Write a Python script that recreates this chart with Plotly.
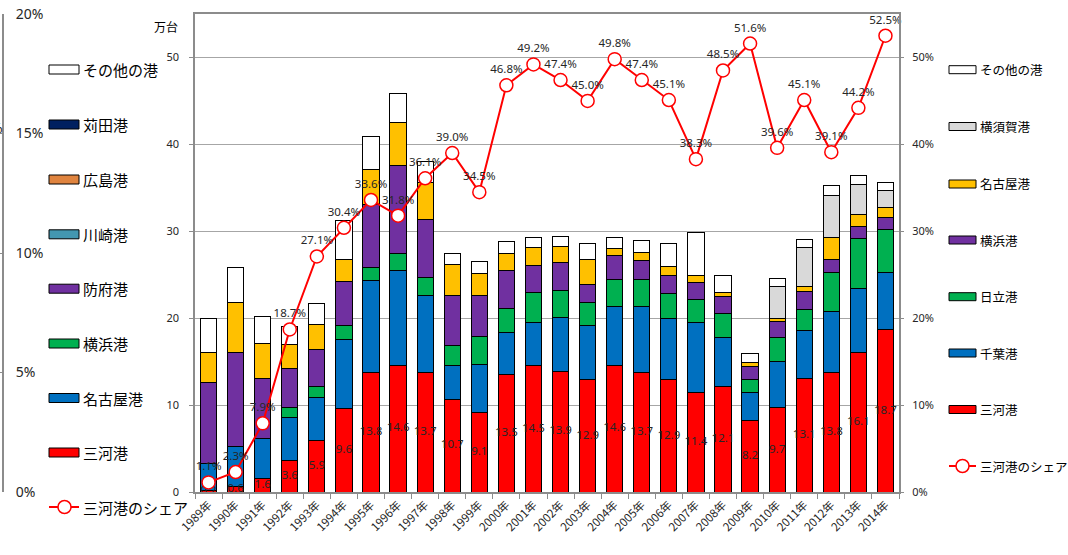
import plotly.graph_objects as go

W, H = 1068, 555

years = ["1989年","1990年","1991年","1992年","1993年","1994年","1995年","1996年","1997年",
         "1998年","1999年","2000年","2001年","2002年","2003年","2004年","2005年","2006年",
         "2007年","2008年","2009年","2010年","2011年","2012年","2013年","2014年"]

mikawa   = [0.2, 0.6, 1.6, 3.6, 5.9, 9.6, 13.8, 14.6, 13.7, 10.7, 9.1, 13.5, 14.5, 13.9, 12.9,
            14.6, 13.7, 12.9, 11.4, 12.1, 8.2, 9.7, 13.1, 13.8, 16.1, 18.7]
chiba    = [3.1, 4.6, 4.6, 5.0, 5.0, 8.0, 10.5, 10.9, 8.9, 3.8, 5.6, 4.85, 5.0, 6.2, 6.3,
            6.75, 7.6, 7.1, 8.1, 5.65, 3.3, 5.3, 5.45, 7.0, 7.35, 6.6]
hitachi  = [0.0, 0.0, 0.0, 1.1, 1.2, 1.6, 1.5, 2.0, 2.1, 2.4, 3.2, 2.75, 3.4, 3.1, 2.6,
            3.15, 3.1, 2.8, 2.6, 2.75, 1.5, 2.8, 2.45, 4.5, 5.75, 4.9]
yokohama = [9.3, 10.9, 6.9, 4.5, 4.3, 5.0, 7.3, 10.1, 6.6, 5.7, 4.7, 4.4, 3.2, 3.15, 2.05,
            2.7, 2.2, 2.1, 1.95, 1.95, 1.4, 1.8, 2.05, 1.4, 1.35, 1.4]
nagoya   = [3.4, 5.75, 4.0, 2.8, 2.9, 2.6, 4.0, 4.9, 4.3, 3.6, 2.5, 2.0, 2.0, 1.95, 2.85,
            0.8, 1.0, 1.0, 0.85, 0.5, 0.55, 0.4, 0.6, 2.6, 1.35, 1.15]
yokosuka = [0, 0, 0, 0, 0, 0, 0, 0, 0, 0, 0, 0, 0, 0, 0,
            0, 0, 0, 0, 0, 0, 3.65, 4.5, 4.8, 3.5, 1.95]
others   = [4.0, 3.95, 3.1, 2.1, 2.4, 4.4, 3.8, 3.4, 2.4, 1.3, 1.4, 1.3, 1.2, 1.1, 1.95,
            1.3, 1.3, 2.75, 5.0, 2.0, 1.0, 0.95, 0.95, 1.15, 1.0, 0.9]
share    = [1.1, 2.3, 7.9, 18.7, 27.1, 30.4, 33.6, 31.8, 36.1, 39.0, 34.5, 46.8, 49.2, 47.4, 45.0,
            49.8, 47.4, 45.1, 38.3, 48.5, 51.6, 39.6, 45.1, 39.1, 44.2, 52.5]

y_ticks_left = [0, 10, 20, 30, 40, 50]
share_ticks = [0, 0.1, 0.2, 0.3, 0.4, 0.5]
old_ticks = [0, 0.05, 0.10, 0.15, 0.20]

series_names = ["三河港", "千葉港", "日立港", "横浜港", "名古屋港", "横須賀港", "その他の港"]
series_vals = [mikawa, chiba, hitachi, yokohama, nagoya, yokosuka, others]
series_cols = ["#FF0000", "#0070C0", "#00B050", "#7030A0", "#FFC000", "#D9D9D9", "#FFFFFF"]

old_leg_names = ["その他の港", "苅田港", "広島港", "川崎港", "防府港", "横浜港", "名古屋港", "三河港"]
old_leg_cols = ["#FFFFFF", "#002060", "#E0843F", "#4397B0", "#7030A0", "#00B050", "#0070C0", "#FF0000"]

FONT = "Noto Sans, Noto Sans CJK JP, sans-serif"
JFONT = "Noto Sans CJK JP, sans-serif"
AX = "#8C8C8C"
TXT = "#262626"

fig = go.Figure()
for name, vals, col in zip(series_names, series_vals, series_cols):
    fig.add_trace(go.Bar(x=years, y=vals, name=name, marker=dict(color=col, line=dict(color="#000000", width=1)),
                         showlegend=False, hoverinfo="x+y+name"))

# red value labels centred in the 三河港 segment
fig.add_trace(go.Scatter(x=years, y=[v / 2 for v in mikawa], mode="text",
                         text=[f"{v:.1f}" for v in mikawa], textposition="middle center",
                         textfont=dict(family=FONT, size=11.5, color=TXT), showlegend=False, hoverinfo="skip"))

# share line
fig.add_trace(go.Scatter(x=years, y=[s / 100 for s in share], yaxis="y2", mode="lines+markers+text",
                         line=dict(color="#FF0000", width=2),
                         marker=dict(symbol="circle", size=13, color="#FFFFFF", line=dict(color="#FF0000", width=1.5)),
                         text=[f"{s:.1f}%" for s in share], textposition="top center",
                         textfont=dict(family=FONT, size=11.5, color=TXT), name="三河港のシェア",
                         showlegend=False, cliponaxis=False))

# dummy trace for the old (left) percentage axis
fig.add_trace(go.Scatter(x=[years[0]], y=[0], yaxis="y3", mode="markers", marker=dict(opacity=0),
                         showlegend=False, hoverinfo="skip"))

def px(x):
    return x / W

def py(y):
    return 1 - y / H

shapes = []
annotations = []

# left (old) legend
old_y = [69.5, 124.5, 179.5, 234.3, 288.7, 343.5, 398, 452.5]
for nm, col, yy in zip(old_leg_names, old_leg_cols, old_y):
    shapes.append(dict(type="rect", xref="paper", yref="paper", x0=px(49), x1=px(79), y0=py(yy + 4.5), y1=py(yy - 4.5),
                       fillcolor=col, line=dict(color="#000000", width=1)))
    annotations.append(dict(xref="paper", yref="paper", x=px(81), y=py(yy), text=nm, showarrow=False,
                            xanchor="left", yanchor="middle", font=dict(family=JFONT, size=15, color="#000000")))
shapes.append(dict(type="line", xref="paper", yref="paper", x0=px(49), x1=px(79), y0=py(507), y1=py(507),
                   line=dict(color="#FF0000", width=2)))
shapes.append(dict(type="circle", xref="paper", yref="paper", x0=px(58), x1=px(71), y0=py(513.5), y1=py(500.5),
                   fillcolor="#FFFFFF", line=dict(color="#FF0000", width=1.5)))
annotations.append(dict(xref="paper", yref="paper", x=px(81), y=py(507), text="三河港のシェア", showarrow=False,
                        xanchor="left", yanchor="middle", font=dict(family=JFONT, size=15, color="#000000")))

# right legend
new_leg = list(zip(series_names[::-1], series_cols[::-1]))
new_y = [69.7, 126.5, 184, 240, 296.7, 353, 409.5]
for (nm, col), yy in zip(new_leg, new_y):
    shapes.append(dict(type="rect", xref="paper", yref="paper", x0=px(949), x1=px(976), y0=py(yy + 4), y1=py(yy - 4),
                       fillcolor=col, line=dict(color="#000000", width=1)))
    annotations.append(dict(xref="paper", yref="paper", x=px(978), y=py(yy), text=nm, showarrow=False,
                            xanchor="left", yanchor="middle", font=dict(family=JFONT, size=12.5, color="#000000")))
shapes.append(dict(type="line", xref="paper", yref="paper", x0=px(949), x1=px(976), y0=py(466), y1=py(466),
                   line=dict(color="#FF0000", width=2)))
shapes.append(dict(type="circle", xref="paper", yref="paper", x0=px(956), x1=px(969), y0=py(472.5), y1=py(459.5),
                   fillcolor="#FFFFFF", line=dict(color="#FF0000", width=1.5)))
annotations.append(dict(xref="paper", yref="paper", x=px(978), y=py(466), text="三河港のシェア", showarrow=False,
                        xanchor="left", yanchor="middle", font=dict(family=JFONT, size=12.5, color="#000000")))

# unit label and cut-off fragment
annotations.append(dict(xref="paper", yref="paper", x=px(166), y=py(27), text="万台", showarrow=False,
                        xanchor="center", yanchor="middle", font=dict(family=JFONT, size=12, color="#000000")))
annotations.append(dict(xref="paper", yref="paper", x=px(5), y=py(127), text="%", showarrow=False,
                        xanchor="right", yanchor="middle", font=dict(family=FONT, size=14, color=TXT)))

ydom = [1 - 492 / H, 1 - 14 / H]

fig.update_layout(
    width=W, height=H,
    margin=dict(l=0, r=0, t=0, b=0),
    paper_bgcolor="#FFFFFF", plot_bgcolor="#FFFFFF",
    barmode="stack", bargap=0.4,
    showlegend=False,
    font=dict(family=FONT, size=11, color=TXT),
    shapes=shapes, annotations=annotations,
    xaxis=dict(domain=[px(195), px(899)], type="category", range=[-0.5, len(years) - 0.5], autorange=False,
               showline=True, linecolor=AX, linewidth=1.5,
               mirror=True, ticks="outside", tickson="boundaries", ticklen=5, tickcolor=AX,
               tickangle=-45, tickfont=dict(family=JFONT, size=11.5, color=TXT), showgrid=False, automargin=False),
    yaxis=dict(domain=ydom, range=[0, 55], tickvals=y_ticks_left, showline=True, linecolor=AX, linewidth=1.5,
               mirror=True, ticks="outside", ticklen=4, tickcolor=AX, ticklabelstandoff=8,
               showgrid=True, gridcolor="#A6A6A6", gridwidth=1, zeroline=False,
               tickfont=dict(family=FONT, size=11, color=TXT), automargin=False),
    yaxis2=dict(overlaying="y", side="right", range=[0, 0.55], tickvals=share_ticks, tickformat=".0%",
                showline=False, ticks="outside", ticklen=4, tickcolor=AX, ticklabelstandoff=6,
                showgrid=False, zeroline=False, tickfont=dict(family=FONT, size=11, color=TXT), automargin=False),
    yaxis3=dict(overlaying="y", side="right", anchor="free", position=px(3), range=[0, 0.2],
                tickvals=old_ticks, tickformat=".0%", showline=True, linecolor=AX, linewidth=2,
                ticks="inside", ticklen=4, tickcolor=AX, ticklabelstandoff=9,
                showgrid=False, zeroline=False, tickfont=dict(family=FONT, size=14, color=TXT), automargin=False),
)

fig.write_html("out.html", config={"displayModeBar": False},
               post_script="document.body.style.margin='0px';")
